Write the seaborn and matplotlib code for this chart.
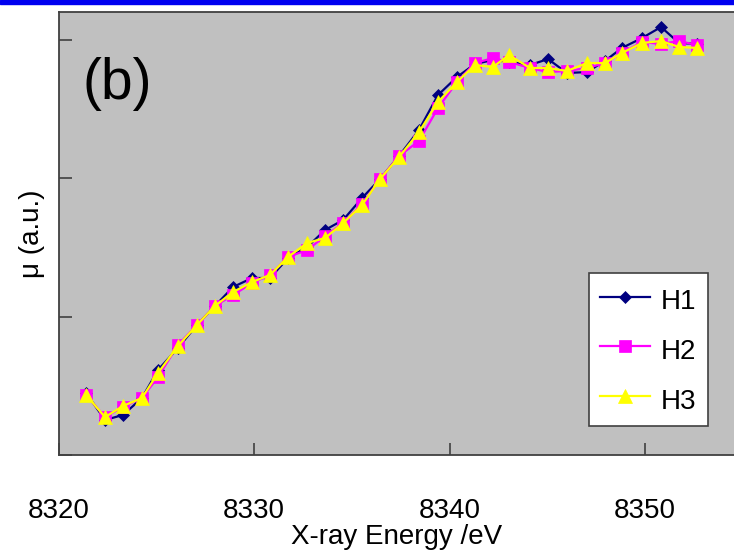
"""
XANES edge comparison, panel (b): H1 / H2 / H3
"""

import numpy as np
import pandas as pd
import matplotlib
matplotlib.use("Agg")
import matplotlib.pyplot as plt
import seaborn as sns
from matplotlib.patches import Rectangle

# X-ray energy (eV) of each sampled point
energy = [8321.41, 8322.38, 8323.30, 8324.27, 8325.09, 8326.11, 8327.08, 8328.00,
          8328.93, 8329.90, 8330.82, 8331.74, 8332.72, 8333.64, 8334.56, 8335.53,
          8336.45, 8337.42, 8338.44, 8339.41, 8340.38, 8341.30, 8342.22, 8343.04,
          8344.12, 8345.04, 8346.01, 8347.03, 8347.95, 8348.82, 8349.85, 8350.82,
          8351.74, 8352.66]

# absorption, arbitrary units
h1 = [0.448, 0.253, 0.289, 0.412, 0.614, 0.773, 0.939, 1.076, 1.213, 1.278, 1.278,
      1.422, 1.502, 1.625, 1.697, 1.856, 1.993, 2.159, 2.347, 2.599, 2.729, 2.823,
      2.852, 2.838, 2.816, 2.859, 2.758, 2.765, 2.845, 2.939, 3.011, 3.090, 2.975, 2.968]
h2 = [0.433, 0.274, 0.347, 0.412, 0.563, 0.794, 0.939, 1.076, 1.155, 1.242, 1.300,
      1.430, 1.480, 1.581, 1.675, 1.812, 1.993, 2.159, 2.267, 2.505, 2.693, 2.830,
      2.866, 2.838, 2.794, 2.765, 2.773, 2.794, 2.830, 2.903, 2.982, 2.968, 2.989, 2.960]
h3 = [0.433, 0.274, 0.354, 0.412, 0.592, 0.787, 0.939, 1.076, 1.177, 1.249, 1.300,
      1.430, 1.531, 1.567, 1.675, 1.805, 1.993, 2.152, 2.332, 2.549, 2.693, 2.816,
      2.801, 2.888, 2.794, 2.794, 2.773, 2.830, 2.830, 2.903, 2.975, 2.989, 2.946, 2.939]

xticks = [8320, 8330, 8340, 8350]
yticks = [0, 1, 2, 3]

df = pd.DataFrame({'Energy': energy, 'H1': h1, 'H2': h2, 'H3': h3})

plt.rcParams['font.family'] = ['Liberation Sans', 'DejaVu Sans']

W, H = 734, 554
fig = plt.figure(figsize=(W / 100, H / 100), dpi=100)
fig.patch.set_facecolor('white')

# axes runs off the right edge of the picture
left, right, top, bottom = 58.5, 734, 12, 455
ax = fig.add_axes([left / W, (H - bottom) / H, (right - left) / W, (bottom - top) / H])
ax.set_facecolor('#C0C0C0')

series = [('H1', 'D', '#000080', 6.3), ('H2', 's', '#FF00FF', 9.0), ('H3', '^', '#FFFF00', 9.8)]
for name, mk, col, ms in series:
    sns.lineplot(data=df, x='Energy', y=name, ax=ax, color=col, marker=mk,
                 markersize=ms, markeredgecolor=col, markeredgewidth=0.5,
                 linewidth=1.6, label=name)

ax.set_xlim(8320, 8320 + (right - left) / 19.55)
ax.set_ylim(0, (bottom - top) / 138.5)
ax.set_xticks(xticks)
ax.set_yticks(yticks)
ax.set_yticklabels([])
ax.tick_params(axis='both', direction='in', length=9, width=1.2, color='#404040')
ax.tick_params(axis='x', labelsize=20, pad=31)

for s in ['left', 'bottom', 'top']:
    ax.spines[s].set_color('#404040')
    ax.spines[s].set_linewidth(1.3)
ax.spines['right'].set_visible(False)

ax.set_xlabel('X-ray Energy /eV', fontsize=20, labelpad=0)
ax.set_ylabel('μ (a.u.)', fontsize=20, labelpad=6)

ax.text(0.035, 0.838, '(b)', transform=ax.transAxes, fontsize=41,
        ha='left', va='center')

leg = ax.legend(loc='upper left', bbox_to_anchor=(589 / W, 1 - 273 / H),
                bbox_transform=fig.transFigure, fontsize=20, frameon=True,
                fancybox=False, framealpha=1, edgecolor='#404040',
                borderpad=0.4, handlelength=1.8, handletextpad=0.4,
                handleheight=1.35, labelspacing=0.67, borderaxespad=0)
leg.get_frame().set_linewidth(1.2)

# blue band along the top
fig.patches.append(Rectangle((0, 1 - 4 / H), 1, 4 / H, transform=fig.transFigure,
                             color='#0000F0', zorder=5))

plt.savefig('out.png', dpi=100)
plt.close()
